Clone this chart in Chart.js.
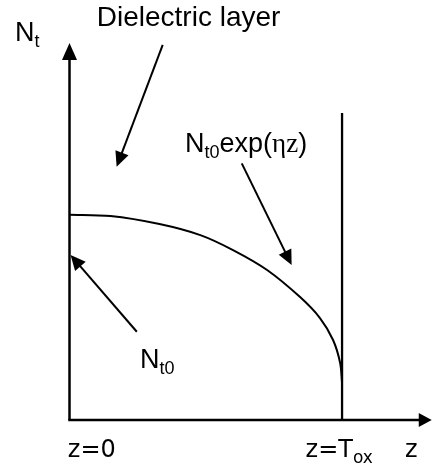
<!DOCTYPE html>
<html>
<head>
<meta charset="utf-8">
<script src="https://cdn.jsdelivr.net/npm/chart.js@4"></script>
<style>
html, body { margin: 0; padding: 0; background: #fff; }
#wrap { width: 432px; height: 472px; }
</style>
</head>
<body>
<div id="wrap"><canvas id="chart1"></canvas></div>
<script>
// depth z/Tox and trap density Nt/Nt0
var depth   = [0, 0.15, 0.33, 0.48, 0.60, 0.725, 0.846, 0.919, 0.967, 0.993, 1.0];
var density = [1.0, 0.994, 0.955, 0.901, 0.828, 0.731, 0.599, 0.497, 0.390, 0.278, 0.18];

var tox = 1;          // oxide thickness (normalised)
var wallTop = 1.495;  // top of the z=Tox line
var yAxisTop = 1.836;
var xAxisEnd = 1.329;

// text pieces: [text, kind]  n = normal, s = subscript, g = serif
var labelNt      = [['N', 'n'], ['t', 's']];
var labelLayer   = [['Dielectric layer', 'L']];
var labelExp     = [['N', 'n'], ['t0', 's'], ['exp(', 'n'], ['\u03b7z', 'g'], [')', 'n']];
var labelNt0     = [['N', 'n'], ['t0', 's']];
var labelZ0      = [['z=0', 'd']];
var labelZtox    = [['z=T', 'd'], ['ox', 'ds']];
var labelZ       = [['z', 'd']];

// where the labels sit (data units, left edge / baseline)
var labelAt = [
  [labelNt,    -0.200, 1.846],
  [labelLayer,  0.100, 1.919],
  [labelExp,    0.424, 1.305],
  [labelNt0,    0.259, 0.253],
  [labelZ0,    -0.006, -0.180],
  [labelZtox,   0.866, -0.180],
  [labelZ,      1.231, -0.180]
];

// annotation arrows: from -> to (data units)
var arrows = [
  [0.342, 1.827, 0.173, 1.234],
  [0.632, 1.250, 0.815, 0.755],
  [0.247, 0.430, 0.004, 0.804]
];

var fonts = {
  n:  '27px "Liberation Sans", Arial, sans-serif',
  L:  '28px "Liberation Sans", Arial, sans-serif',
  s:  '18px "Liberation Sans", Arial, sans-serif',
  g:  '27px "Liberation Serif", "Times New Roman", serif',
  d:  '24px "DejaVu Sans", sans-serif',
  ds: '17px "DejaVu Sans", sans-serif'
};
var subDrop = { s: 6, ds: 6 };

var sketch = {
  id: 'sketch',
  afterDatasetsDraw: function (chart) {
    var ctx = chart.ctx;
    var sx = chart.scales.x, sy = chart.scales.y;
    function X(v) { return sx.getPixelForValue(v); }
    function Y(v) { return sy.getPixelForValue(v); }

    function head(x0, y0, x1, y1, len, half) {
      var a = Math.atan2(y1 - y0, x1 - x0);
      ctx.beginPath();
      ctx.moveTo(x1, y1);
      ctx.lineTo(x1 - len * Math.cos(a) + half * Math.sin(a), y1 - len * Math.sin(a) - half * Math.cos(a));
      ctx.lineTo(x1 - len * Math.cos(a) - half * Math.sin(a), y1 - len * Math.sin(a) + half * Math.cos(a));
      ctx.closePath();
      ctx.fill();
    }

    ctx.save();
    ctx.fillStyle = '#000';
    ctx.strokeStyle = '#000';

    // axis arrow heads
    head(X(0), Y(0), X(0), Y(yAxisTop), 17, 7.5);
    head(X(0), Y(0), X(xAxisEnd), Y(0), 13, 7);

    // annotation arrows
    ctx.lineWidth = 2;
    arrows.forEach(function (a) {
      var x0 = X(a[0]), y0 = Y(a[1]), x1 = X(a[2]), y1 = Y(a[3]);
      var ang = Math.atan2(y1 - y0, x1 - x0);
      ctx.beginPath();
      ctx.moveTo(x0, y0);
      ctx.lineTo(x1 - 10 * Math.cos(ang), y1 - 10 * Math.sin(ang));
      ctx.stroke();
      head(x0, y0, x1, y1, 15, 7);
    });

    // labels
    ctx.textBaseline = 'alphabetic';
    ctx.textAlign = 'left';
    labelAt.forEach(function (l) {
      var x = X(l[1]), y = Y(l[2]);
      l[0].forEach(function (p) {
        ctx.font = fonts[p[1]];
        ctx.fillText(p[0], x, y + (subDrop[p[1]] || 0));
        x += ctx.measureText(p[0]).width;
      });
    });
    ctx.restore();
  }
};

var chart1 = new Chart(document.getElementById('chart1').getContext('2d'), {
  type: 'scatter',
  data: {
    datasets: [
      {
        label: 'Nt',
        data: depth.map(function (z, i) { return { x: z, y: density[i] }; }),
        showLine: true,
        borderColor: '#000',
        borderWidth: 2,
        pointRadius: 0,
        tension: 0.3,
        clip: false
      },
      {
        label: 'wall',
        data: [{ x: tox, y: 0 }, { x: tox, y: wallTop }],
        showLine: true,
        borderColor: '#000',
        borderWidth: 2.3,
        pointRadius: 0,
        clip: false
      },
      {
        label: 'y axis',
        data: [{ x: 0, y: 0 }, { x: 0, y: yAxisTop - 0.05 }],
        showLine: true,
        borderColor: '#000',
        borderWidth: 2.5,
        pointRadius: 0,
        clip: false
      },
      {
        label: 'x axis',
        data: [{ x: 0, y: 0 }, { x: xAxisEnd - 0.03, y: 0 }],
        showLine: true,
        borderColor: '#000',
        borderWidth: 2.5,
        borderCapStyle: 'square',
        pointRadius: 0,
        clip: false
      }
    ]
  },
  options: {
    responsive: true,
    maintainAspectRatio: false,
    animation: false,
    layout: { padding: 0 },
    plugins: { legend: { display: false }, tooltip: { enabled: false } },
    scales: {
      x: { type: 'linear', display: false, min: -0.255, max: 1.330 },
      y: { type: 'linear', display: false, min: -0.253, max: 2.046 }
    }
  },
  plugins: [sketch]
});
</script>
</body>
</html>
